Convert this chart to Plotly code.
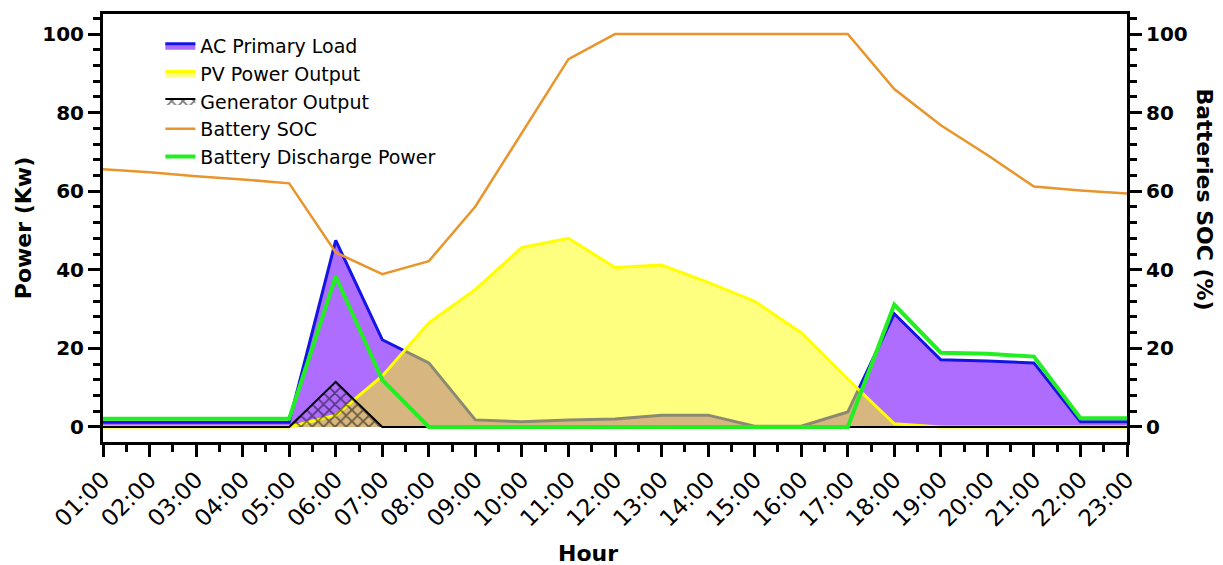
import numpy as np
import plotly.graph_objects as go

hours = list(range(1, 24))
hour_labels = [f"{h:02d}:00" for h in hours]

ac_primary_load = [1.2, 1.2, 1.2, 1.2, 1.2, 47.5, 22.2, 16.3, 1.8, 1.3, 1.8, 2.0, 3.0,
                   3.0, 0.2, 0.2, 3.8, 28.8, 17.1, 16.8, 16.3, 1.3, 1.3]
pv_power_output = [0, 0, 0, 0, 0, 3.0, 13.0, 26.5, 35.0, 45.7, 48.0, 40.6, 41.2,
                   36.8, 32.0, 24.0, 12.2, 0.8, 0, 0, 0, 0, 0]
generator_output = [0, 0, 0, 0, 0, 11.5, 0, 0, 0, 0, 0, 0, 0,
                    0, 0, 0, 0, 0, 0, 0, 0, 0, 0]
battery_soc = [65.6, 64.8, 63.8, 63.0, 62.0, 44.4, 38.9, 42.2, 56.1, 74.8, 93.6, 100, 100,
               100, 100, 100, 100, 86.0, 76.8, 69.2, 61.2, 60.2, 59.4]
battery_discharge = [2.1, 2.1, 2.1, 2.1, 2.1, 38.3, 12.0, 0, 0, 0, 0, 0, 0,
                     0, 0, 0, 0, 31.1, 18.9, 18.6, 17.9, 2.2, 2.2]

y_ticks = [0, 20, 40, 60, 80, 100]
y_range = [-3.83, 105.1]

fig = go.Figure()

fig.add_trace(go.Scatter(
    x=hours, y=ac_primary_load, name="AC Primary Load", mode="lines",
    fill="tozeroy", fillcolor="#AF6DFF", line=dict(color="#1414E6", width=3),
    legendrank=1))

fig.add_trace(go.Scatter(
    x=hours, y=pv_power_output, name="PV Power Output", mode="lines",
    fill="tozeroy", fillcolor="rgba(255,255,0,0.5)",
    line=dict(color="#FFFF00", width=3), legendrank=2))

fig.add_trace(go.Scatter(
    x=hours, y=generator_output, name="Generator Output", mode="lines",
    fill="tozeroy", fillcolor="rgba(0,0,0,0)",
    fillpattern=dict(shape="x", fgcolor="black", bgcolor="rgba(0,0,0,0)",
                     size=8, solidity=0.4),
    line=dict(color="black", width=2), legendrank=3))

fig.add_trace(go.Scatter(
    x=hours, y=battery_discharge, name="Battery Discharge Power", mode="lines",
    line=dict(color="#22EE22", width=4), legendrank=5))

fig.add_trace(go.Scatter(
    x=hours, y=battery_soc, name="Battery SOC", mode="lines", yaxis="y2",
    line=dict(color="#E8952C", width=2.5), legendrank=4))

minor_x = list(np.array(hours[:-1]) + 0.5)

axis_font = dict(family="DejaVu Sans", size=20, color="black", weight="bold")
title_font = dict(family="DejaVu Sans", size=22, color="black", weight="bold")

fig.update_layout(
    width=1223, height=565,
    margin=dict(l=103, r=96, t=14, b=123),
    plot_bgcolor="white", paper_bgcolor="white",
    font=dict(family="DejaVu Sans", color="black"),
    showlegend=True,
    legend=dict(x=0.056, y=0.97, xanchor="left", yanchor="top",
                bgcolor="rgba(0,0,0,0)", font=dict(size=19, family="DejaVu Sans"),
                tracegroupgap=0),
    hovermode=False,
    xaxis=dict(
        range=[1, 23], tickmode="array", tickvals=hours, ticktext=hour_labels,
        tickangle=-45, ticks="outside", ticklen=12, tickwidth=3, tickcolor="black",
        minor=dict(tickmode="array", tickvals=minor_x, ticks="outside", ticklen=7,
                   tickwidth=3, tickcolor="black", showgrid=False),
        showline=True, linewidth=3, linecolor="black", mirror=True,
        showgrid=False, zeroline=False,
        tickfont=dict(family="DejaVu Sans", size=23, color="black"),
    ),
    yaxis=dict(
        range=y_range, tickmode="array", tickvals=y_ticks,
        ticks="outside", ticklen=12, tickwidth=3, tickcolor="black",
        minor=dict(dtick=4, tick0=0, ticks="outside", ticklen=7, tickwidth=3,
                   tickcolor="black", showgrid=False),
        showline=True, linewidth=3, linecolor="black",
        showgrid=False, zeroline=False, tickfont=axis_font,
        title=dict(text="Power (Kw)", font=title_font, standoff=5),
    ),
    yaxis2=dict(
        range=y_range, overlaying="y", side="right", tickmode="array", tickvals=y_ticks,
        ticks="outside", ticklen=12, tickwidth=3, tickcolor="black",
        minor=dict(dtick=4, tick0=0, ticks="outside", ticklen=7, tickwidth=3,
                   tickcolor="black", showgrid=False),
        showline=True, linewidth=3, linecolor="black",
        showgrid=False, zeroline=False, tickfont=axis_font,
    ),
    annotations=[
        dict(text="Batteries SOC (%)", textangle=90, xref="paper", yref="paper",
             x=1.076, y=0.567, xanchor="center", yanchor="middle", showarrow=False,
             font=title_font),
        dict(text="Hour", xref="paper", yref="paper",
             x=0.474, y=-0.26, xanchor="center", yanchor="middle", showarrow=False,
             font=title_font),
    ],
)

fig.write_html("out.html")
